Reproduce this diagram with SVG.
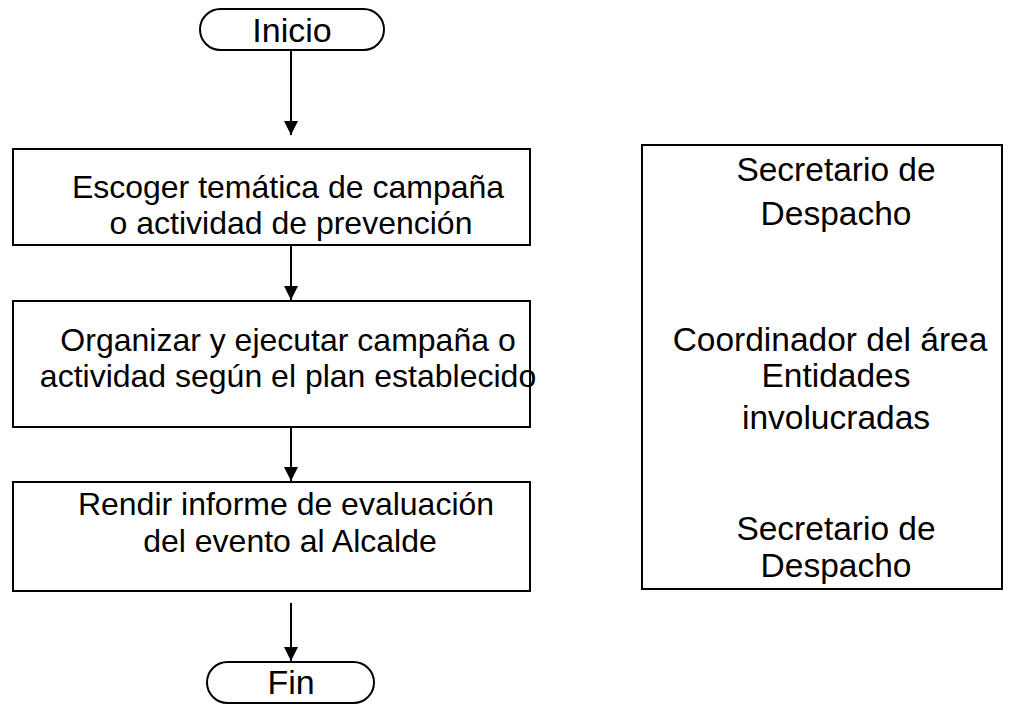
<svg xmlns="http://www.w3.org/2000/svg" width="1009" height="710" viewBox="0 0 1009 710">
<style>
.s{fill:#fff;stroke:#000;stroke-width:2}
.t{font-family:"Liberation Sans",Arial,sans-serif;font-size:32px;fill:#000;text-anchor:middle}
.b{font-size:34px}
.r{font-size:33.5px}
.c{stroke:#000;stroke-width:2;fill:none}
</style>
<defs>
<marker id="ah" viewBox="0 0 10 10" refX="10" refY="5" markerWidth="15" markerHeight="14" markerUnits="userSpaceOnUse" orient="auto">
<path d="M0,0 L10,5 L0,10 z" fill="#000"/>
</marker>
</defs>
<rect width="1009" height="710" fill="#fff"/>
<g id="connectors">
<line class="c" x1="291" y1="50" x2="291" y2="135" marker-end="url(#ah)"/>
<line class="c" x1="291" y1="245" x2="291" y2="300" marker-end="url(#ah)"/>
<line class="c" x1="291" y1="427" x2="291" y2="481" marker-end="url(#ah)"/>
<line class="c" x1="291" y1="603" x2="291" y2="661" marker-end="url(#ah)"/>
</g>
<g id="inicio">
<rect class="s" x="200" y="9" width="184" height="41" rx="20.5"/>
<text class="t b" x="292" y="42">Inicio</text>
</g>
<g id="paso1">
<rect class="s" x="13" y="149" width="517" height="96"/>
<text class="t" x="288" y="198">Escoger temática de campaña</text>
<text class="t" x="291" y="234">o actividad de prevención</text>
</g>
<g id="paso2">
<rect class="s" x="13" y="301" width="517" height="126"/>
<text class="t" x="288" y="351">Organizar y ejecutar campaña o</text>
<text class="t" x="288" y="387">actividad según el plan establecido</text>
</g>
<g id="paso3">
<rect class="s" x="13" y="482" width="517" height="109"/>
<text class="t" x="286" y="515">Rendir informe de evaluación</text>
<text class="t" x="290" y="552">del evento al Alcalde</text>
</g>
<g id="fin">
<rect class="s" x="207" y="662" width="167" height="41" rx="20.5"/>
<text class="t b" x="291" y="694">Fin</text>
</g>
<g id="responsables">
<rect class="s" x="642" y="145" width="360" height="444"/>
<text class="t r" x="836" y="181">Secretario de</text>
<text class="t r" x="836" y="225">Despacho</text>
<text class="t r" x="830" y="351">Coordinador del área</text>
<text class="t r" x="836" y="387">Entidades</text>
<text class="t r" x="836" y="429">involucradas</text>
<text class="t r" x="836" y="540">Secretario de</text>
<text class="t r" x="836" y="577">Despacho</text>
</g>
</svg>
